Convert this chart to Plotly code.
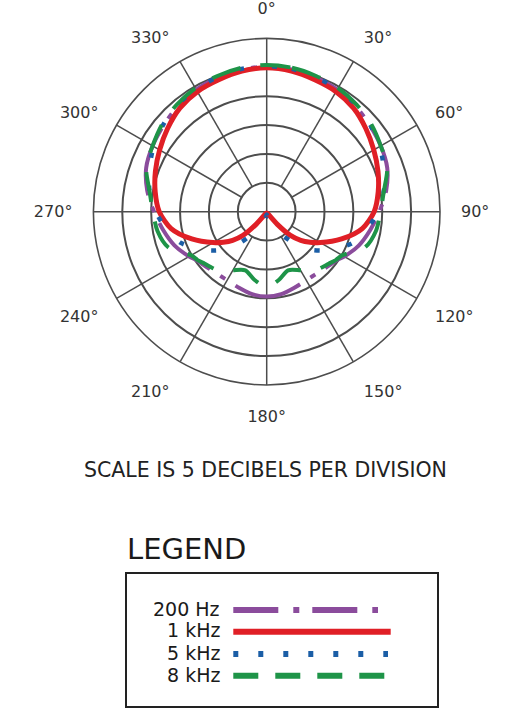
import plotly.graph_objects as go

W, H = 528, 716

# polar response, r in "dB above the -30 dB centre" (5 dB per ring, outer ring = 30)
angles = [0, 10, 20, 30, 40, 50, 60, 70, 80, 90, 100, 110, 120, 125, 130, 135, 140, 145,
          150, 160, 170, 180, 190, 200, 210, 215, 220, 225, 230, 235, 240,
          250, 260, 270, 280, 290, 300, 310, 320, 330, 340, 350, 360]

r_200hz = [25.1, 25.0, 24.7, 24.4, 23.9, 23.3, 22.8, 22.2, 21.0, 19.5, 18.2, 17.0, 15.5, 14.7, 14.3, 14.0, 13.8, 13.7,
           13.7, 14.0, 14.5, 14.7, 14.5, 14.0, 13.7, 13.7, 13.8, 14.0, 14.3, 14.7, 15.5,
           17.0, 18.2, 19.5, 21.0, 22.2, 22.8, 23.3, 23.9, 24.4, 24.7, 25.0, 25.1]
r_1khz = [24.9, 24.7, 24.3, 24.0, 23.4, 22.4, 21.4, 20.5, 19.6, 18.6, 16.8, 13.8, 10.7, 9.2, 7.7, 5.8, 2.8, 0.8,
          0.4, 0.3, 0.3, 0.3, 0.3, 0.3, 0.4, 0.8, 2.8, 5.8, 7.7, 9.2, 10.7,
          13.8, 16.8, 18.6, 19.6, 20.5, 21.4, 22.4, 23.4, 24.0, 24.3, 24.7, 24.9]
r_5khz = [25.2, 25.1, 24.8, 24.5, 24.1, 23.4, 22.6, 21.6, 20.6, 19.2, 17.6, 15.8, 13.1, 11.7, 10.3, 8.7, 6.9, 5.2,
          3.6, 2.0, 1.0, 0.5, 1.0, 2.0, 3.6, 5.2, 6.9, 8.7, 10.3, 11.7, 13.1,
          15.8, 17.6, 19.2, 20.6, 21.6, 22.6, 23.4, 24.1, 24.5, 24.8, 25.1, 25.2]
r_8khz = [25.4, 25.3, 25.0, 24.7, 24.2, 23.6, 22.8, 22.2, 20.6, 19.7, 19.2, 18.1, 15.1, 14.6, 14.0, 13.6, 13.2, 12.4,
          11.7, 10.8, 12.0, 13.0, 12.0, 10.8, 11.7, 12.4, 13.2, 13.6, 14.0, 14.6, 15.1,
          18.1, 19.2, 19.7, 20.6, 22.2, 22.8, 23.6, 24.2, 24.7, 25.0, 25.3, 25.4]

series_names = ["200 Hz", "1 kHz", "5 kHz", "8 kHz"]
series_colors = ["#8b4c9c", "#e01f26", "#1b5ea6", "#1e9448"]

ring_vals = [5, 10, 15, 20, 25]
spoke_angles = [0, 30, 60, 90, 120, 150, 180, 210, 240, 270, 300, 330]

GRID = "#4d4d4d"
FONT = "DejaVu Sans"


def px_x(x):
    return x / W


def px_y(y):
    return 1 - y / H


fig = go.Figure()

# spokes: the diagonal ones stop at the inner ring, the cross goes through the centre
for a in spoke_angles:
    r0 = 0 if a % 90 == 0 else 5
    fig.add_trace(go.Scatterpolar(r=[r0, 30], theta=[a, a], mode="lines",
                                  line=dict(color=GRID, width=1.5),
                                  hoverinfo="skip", showlegend=False))

curves = [r_200hz, r_1khz, r_5khz, r_8khz]
polar_dash = ["70px,12px,6px,12px", "solid", "5px,28px", "30px,20px"]
polar_width = [4, 5, 4.5, 4]
for name, rr, col, d, w in zip(series_names, curves, series_colors, polar_dash, polar_width):
    fig.add_trace(go.Scatterpolar(r=rr, theta=angles, mode="lines", name=name,
                                  line=dict(color=col, width=w, dash=d,
                                            shape="spline", smoothing=0.8),
                                  showlegend=False))

fig.update_layout(
    width=W, height=H,
    margin=dict(l=0, r=0, t=0, b=0),
    paper_bgcolor="white",
    showlegend=False,
    polar=dict(
        domain=dict(x=[px_x(93.4), px_x(440.0)], y=[px_y(385.0), px_y(38.4)]),
        bgcolor="white",
        radialaxis=dict(range=[0, 30], tickvals=ring_vals, showticklabels=False,
                        ticks="", showline=False, gridcolor=GRID, gridwidth=1.5),
        angularaxis=dict(rotation=90, direction="clockwise", dtick=30, ticksuffix="°",
                         showgrid=False, showline=True, linecolor=GRID, linewidth=1.6,
                         ticks="outside", ticklen=17, tickcolor="rgba(0,0,0,0)",
                         tickfont=dict(family=FONT, size=16, color="#333333")),
    ),
)

fig.add_annotation(text="SCALE IS 5 DECIBELS PER DIVISION", x=px_x(265), y=px_y(470),
                   xref="paper", yref="paper", showarrow=False, xanchor="center", yanchor="middle",
                   font=dict(family=FONT, size=20.5, color="#222222"))

# legend block
fig.add_annotation(text="LEGEND", x=px_x(125), y=px_y(549), xref="paper", yref="paper",
                   showarrow=False, xanchor="left", yanchor="middle",
                   font=dict(family=FONT, size=29, color="#1a1a1a"))
fig.add_shape(type="rect", xref="paper", yref="paper",
              x0=px_x(126), x1=px_x(438), y0=px_y(707), y1=px_y(573),
              line=dict(color="#222222", width=2), fillcolor="rgba(0,0,0,0)")

label_y = [609, 629.5, 653, 674.5]
sample_y = [610, 631.7, 654, 675.7]
sample_x1 = [378, 390.7, 388, 385]
legend_dash = ["45px,15px,6px,13px", "solid", "5px,20px", "25px,17px"]
for name, col, ly, sy, x1, d in zip(series_names, series_colors, label_y, sample_y, sample_x1, legend_dash):
    fig.add_annotation(text=name, x=px_x(222), y=px_y(ly), xref="paper", yref="paper",
                       showarrow=False, xanchor="right", yanchor="middle",
                       font=dict(family=FONT, size=19, color="#1a1a1a"))
    fig.add_shape(type="line", xref="paper", yref="paper",
                  x0=px_x(233.3), x1=px_x(x1), y0=px_y(sy), y1=px_y(sy),
                  line=dict(color=col, width=6, dash=d))

# the page body has a default 8px margin; drop it so the figure sits at the window corner
fig.write_html("out.html", config={"displayModeBar": False},
               post_script="document.body.style.margin = '0px';")
